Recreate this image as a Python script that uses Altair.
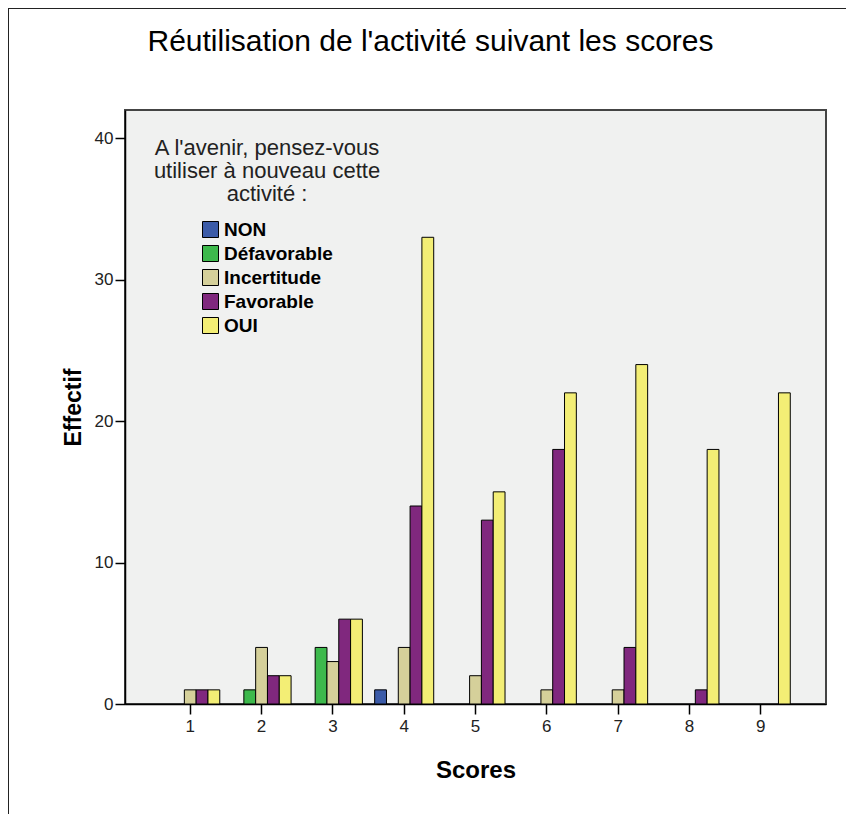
import altair as alt
import pandas as pd

scores = [1, 2, 3, 4, 5, 6, 7, 8, 9]
categories = ["NON", "Défavorable", "Incertitude", "Favorable", "OUI"]
colors = ["#3B5BA8", "#3DB94C", "#D5D09A", "#80287E", "#F3EE75"]
non = [0, 0, 0, 1, 0, 0, 0, 0, 0]
defavorable = [0, 1, 4, 0, 0, 0, 0, 0, 0]
incertitude = [1, 4, 3, 4, 2, 1, 1, 0, 0]
favorable = [1, 2, 6, 14, 13, 18, 4, 1, 0]
oui = [1, 2, 6, 33, 15, 22, 24, 18, 22]

series = [non, defavorable, incertitude, favorable, oui]
rows = []
for cat, vals in zip(categories, series):
    for s, v in zip(scores, vals):
        if v > 0:
            rows.append({"Scores": s, "Réponse": cat, "Effectif": v})
df = pd.DataFrame(rows)

W, H = 701, 594
PAD = {"left": 117, "top": 102, "right": 20, "bottom": 110}

bars = alt.Chart(df).mark_bar(stroke="black", strokeWidth=1).encode(
    x=alt.X("Scores:O",
            scale=alt.Scale(paddingInner=0, paddingOuter=0.415),
            axis=alt.Axis(title="Scores", labelAngle=0, titlePadding=24, labelPadding=4,
                          titleFontSize=24)),
    xOffset=alt.XOffset("Réponse:N",
                        scale=alt.Scale(domain=categories, paddingInner=0, paddingOuter=0.52)),
    y=alt.Y("Effectif:Q",
            scale=alt.Scale(domain=[0, 42], nice=False),
            axis=alt.Axis(title="Effectif", values=[0, 10, 20, 30, 40], grid=False,
                          titlePadding=9, labelPadding=2)),
    color=alt.Color("Réponse:N",
                    scale=alt.Scale(domain=categories, range=colors),
                    legend=alt.Legend(
                        title=["A l'avenir, pensez-vous", "utiliser à nouveau cette", "activité :"],
                        orient="none", legendX=29, legendY=28,
                        titleAlign="center", titleAnchor="middle", titleLimit=400,
                        titleFontSize=22, titleFontWeight="normal", titleLineHeight=23,
                        titleColor="#222", titleFont="Liberation Sans", titlePadding=14,
                        labelFont="Liberation Sans", labelFontSize=19, labelFontWeight="bold",
                        labelColor="black", labelLimit=300, symbolType="square", symbolSize=256,
                        symbolStrokeColor="black", symbolStrokeWidth=1, symbolOpacity=1,
                        rowPadding=3, labelOffset=4)),
)

frame = alt.Chart(pd.DataFrame({"k": [0]})).mark_rule(color="#222", strokeWidth=2).encode(
    x=alt.value(-117), y=alt.value(-102), y2=alt.value(H + PAD["bottom"])
)
frame_top = alt.Chart(pd.DataFrame({"k": [0]})).mark_rule(color="#222", strokeWidth=2).encode(
    x=alt.value(-117), x2=alt.value(W + PAD["right"]), y=alt.value(-102)
)

chart = alt.layer(bars, frame, frame_top).properties(
    width=W, height=H,
    autosize=alt.AutoSizeParams(type="none"),
    padding=PAD,
    background="white",
    title=alt.TitleParams("Réutilisation de l'activité suivant les scores",
                          anchor="middle", dx=-45, offset=-74, baseline="alphabetic",
                          font="Liberation Sans", fontSize=30, fontWeight="normal", color="black"),
).configure_view(fill="#F0F1F0", stroke="#444", strokeWidth=2).configure_axis(
    labelFont="Liberation Sans", labelFontSize=17, labelColor="#222",
    titleFont="Liberation Sans", titleFontSize=23, titleFontWeight="bold", titleColor="black",
    domainColor="black", domainWidth=1.5, tickColor="black", tickSize=10, tickWidth=1.5,
)

chart.save("out.html", embed_options={"renderer": "svg", "actions": False})
